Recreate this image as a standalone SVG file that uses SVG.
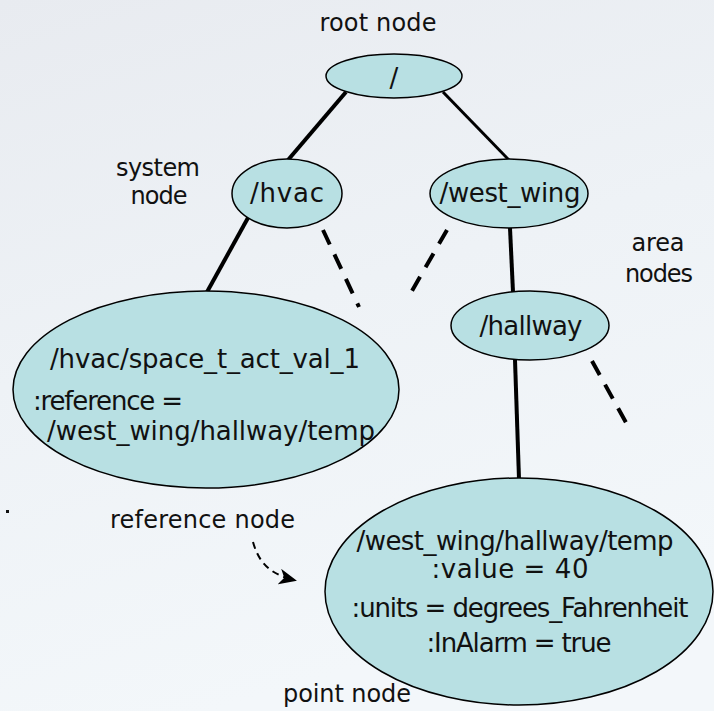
<svg xmlns="http://www.w3.org/2000/svg" width="714" height="711" viewBox="0 0 714 711">
  <defs>
    <linearGradient id="bg" x1="0" y1="0" x2="0.3" y2="1">
      <stop offset="0" stop-color="#e8ebf0"/>
      <stop offset="0.5" stop-color="#eef2f6"/>
      <stop offset="1" stop-color="#f3f7fa"/>
    </linearGradient>
    <marker id="arrow" markerWidth="18" markerHeight="16" refX="15" refY="8" orient="auto" markerUnits="userSpaceOnUse" viewBox="0 0 18 16">
      <path d="M0,0 L18,8 L0,16 L5,8 Z" fill="#000"/>
    </marker>
    <style>
      .node ellipse { fill: #b8e0e3; stroke: #000; stroke-width: 1.5; }
      text { font-family: "DejaVu Sans", "Liberation Sans", sans-serif; fill: #111; }
      .nt { font-size: 26px; }
      .lbl { font-size: 24px; }
      .mid { text-anchor: middle; }
      .edge { stroke: #000; fill: none; stroke-linecap: butt; }
      .solid { stroke-width: 4; }
      .thin { stroke-width: 3; }
      .dash { stroke-width: 4; stroke-dasharray: 16 11; }
      .ref { stroke-width: 2; stroke-dasharray: 7 5; }
    </style>
  </defs>

  <!-- backdrop -->
  <rect x="0" y="0" width="714" height="711" fill="url(#bg)"/>
  <rect x="6" y="510" width="3" height="3" fill="#111"/>

  <!-- connectors -->
  <g id="connectors">
    <line class="edge solid" x1="346" y1="92" x2="288" y2="160"/>
    <line class="edge thin" x1="443" y1="92" x2="509" y2="160"/>
    <line class="edge solid" x1="249" y1="216" x2="207" y2="292"/>
    <line class="edge dash" x1="323" y1="230" x2="359" y2="307"/>
    <line class="edge solid" x1="510" y1="228" x2="513" y2="292"/>
    <line class="edge dash" x1="447" y1="230" x2="409" y2="296"/>
    <line class="edge solid" x1="515" y1="360" x2="519" y2="479"/>
    <line class="edge dash" x1="592" y1="361" x2="629" y2="428"/>
    <path class="edge ref" d="M253,542 C258,560 268,574 294,580" marker-end="url(#arrow)"/>
  </g>

  <!-- labels -->
  <g id="labels">
    <text class="lbl mid" x="378" y="31" textLength="117">root node</text>
    <text class="lbl mid" x="158" y="176" textLength="84">system</text>
    <text class="lbl mid" x="159" y="204" textLength="57">node</text>
    <text class="lbl mid" x="658" y="251" textLength="53">area</text>
    <text class="lbl mid" x="659" y="282" textLength="68">nodes</text>
    <text class="lbl" x="110" y="528" textLength="185">reference node</text>
    <text class="lbl" x="283" y="702" textLength="128">point node</text>
  </g>

  <g id="root" class="node">
    <ellipse cx="394" cy="76" rx="68" ry="22"/>
    <text class="nt mid" x="394" y="87">/</text>
  </g>

  <g id="hvac" class="node">
    <ellipse cx="287" cy="193.5" rx="55" ry="34.5"/>
    <text class="nt mid" x="287" y="202" textLength="74">/hvac</text>
  </g>

  <g id="west_wing" class="node">
    <ellipse cx="509" cy="193.5" rx="79" ry="34.5"/>
    <text class="nt mid" x="510" y="202" textLength="141">/west_wing</text>
  </g>

  <g id="hallway" class="node">
    <ellipse cx="530" cy="325.5" rx="79" ry="34.5"/>
    <text class="nt mid" x="531" y="335" textLength="103">/hallway</text>
  </g>

  <g id="space_t_act_val_1" class="node">
    <ellipse cx="206" cy="389.5" rx="193" ry="98.5"/>
    <text class="nt" x="50" y="368" textLength="310">/hvac/space_t_act_val_1</text>
    <text class="nt" x="33" y="410" textLength="150">:reference =</text>
    <text class="nt" x="47" y="440" textLength="328">/west_wing/hallway/temp</text>
  </g>

  <g id="temp" class="node">
    <ellipse cx="519" cy="591.5" rx="194" ry="113.5"/>
    <text class="nt mid" x="515" y="550" textLength="317">/west_wing/hallway/temp</text>
    <text class="nt mid" x="510" y="578" textLength="157">:value = 40</text>
    <text class="nt mid" x="520" y="617" textLength="337">:units = degrees_Fahrenheit</text>
    <text class="nt mid" x="519" y="652" textLength="185">:InAlarm = true</text>
  </g>
</svg>
